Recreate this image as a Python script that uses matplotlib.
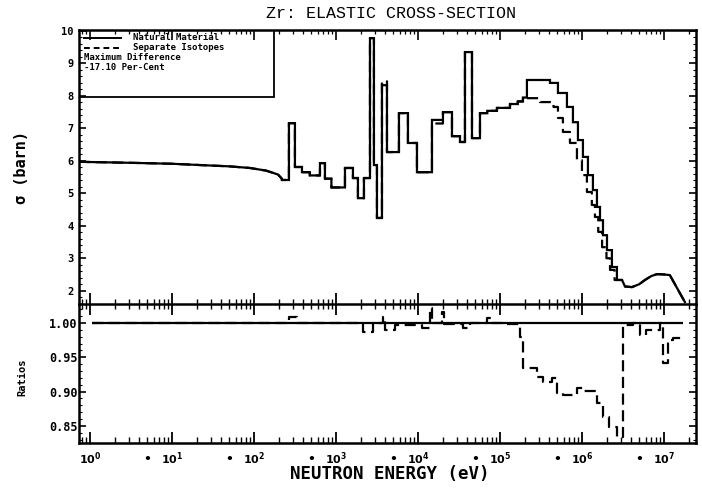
import numpy as np
import matplotlib
matplotlib.use("Agg")
import matplotlib.pyplot as plt
from matplotlib.ticker import FixedLocator, MultipleLocator, FixedFormatter
from matplotlib.patches import Rectangle
from matplotlib.lines import Line2D

# ---------------- data (energies in eV, cross sections in barn) ----------------
# smooth low-energy part (both evaluations agree)
low_E = [0.735, 3, 10, 22, 50, 89, 140, 196, 219]
low_sig = [5.97, 5.94, 5.91, 5.87, 5.83, 5.78, 5.70, 5.58, 5.45]

# resonance region, step (group) values: edges have one more entry than values
res_edges = [219, 267, 316, 385, 480, 638, 734, 880, 1288, 1611, 1854, 2195, 2600,
             2905, 3162, 3640, 4190, 5865, 7550, 9726, 14820, 20180, 26000, 32540,
             37440, 45600, 57060, 70000, 91900, 132500, 165000, 190700, 213300]
res_nat = [5.41, 7.16, 5.81, 5.65, 5.55, 5.93, 5.45, 5.18, 5.78, 5.47, 4.85, 5.47,
           9.78, 5.87, 4.24, 8.33, 6.27, 7.47, 6.55, 5.65, 7.26, 7.50, 6.76, 6.58,
           9.35, 6.70, 7.47, 7.54, 7.63, 7.75, 7.83, 7.95]
res_sep = [5.41, 7.16, 5.81, 5.65, 5.55, 5.93, 5.45, 5.18, 5.78, 5.47, 4.85, 5.47,
           9.78, 5.87, 4.24, 8.45, 6.27, 7.47, 6.55, 5.65, 7.15, 7.50, 6.76, 6.58,
           9.35, 6.70, 7.47, 7.54, 7.63, 7.75, 7.83, 7.95]

# fast region, natural material
fast_nat_edges = [213300, 407400, 509700, 656300, 776500, 893700, 1.028e6, 1.183e6,
                  1.361e6, 1.524e6, 1.66e6, 1.805e6, 2.02e6, 2.32e6, 2.67e6, 3.08e6]
fast_nat = [8.49, 8.40, 8.09, 7.66, 7.19, 6.64, 6.12, 5.56, 5.10, 4.58, 4.17, 3.71,
            3.25, 2.73, 2.33]
# fast region, separate isotopes
fast_sep_edges = [213300, 307300, 450000, 509700, 586000, 714000, 869000, 1.0e6,
                  1.15e6, 1.32e6, 1.44e6, 1.58e6, 1.76e6, 1.99e6, 2.2e6, 2.5e6, 3.08e6]
fast_sep = [7.93, 7.81, 7.66, 7.32, 6.89, 6.55, 6.02, 5.56, 5.04, 4.64, 4.27, 3.81,
            3.34, 3.00, 2.64, 2.33]

# smooth high-energy tail (both agree)
high_E = [3.35e6, 4.07e6, 5.0e6, 5.87e6, 7.0e6, 8.22e6, 1.0e7, 1.18e7, 1.8e7]
high_sig = [2.13, 2.11, 2.20, 2.33, 2.45, 2.51, 2.50, 2.48, 1.65]

# ratio (separate isotopes / natural)
ratio_edges = [1.05, 267, 334, 2135, 2830, 3743, 4000, 5200, 11200, 13900, 15000,
               19600, 21000, 35400, 43000, 69400, 81000, 121600, 175400, 190700,
               282700, 334000, 430700, 495700, 586000, 869000, 1.03e6, 1.52e6,
               1.81e6, 2.16e6, 2.67e6, 3.16e6, 4.19e6, 5.1e6, 6.0e6, 8.93e6, 9.7e6,
               1.13e7, 1.3e7, 1.71e7]
ratio_vals = [1.0, 1.009, 1.0, 0.987, 1.0, 1.009, 0.99, 0.997, 0.993, 1.022, 1.0,
              1.016, 0.998, 0.993, 1.0, 1.007, 1.0, 0.998, 0.98, 0.934, 0.921, 0.914,
              0.92, 0.898, 0.895, 0.905, 0.901, 0.884, 0.863, 0.848, 0.834, 0.997,
              1.0, 0.983, 0.99, 1.0, 0.942, 0.975, 0.978]

legend_lines = ["Natural Material", "Separate Isotopes"]
legend_notes = ["Maximum Difference", "-17.10 Per-Cent"]
title = "Zr: ELASTIC CROSS-SECTION"
xlabel = "NEUTRON ENERGY (eV)"
ylabel_top = "\u03c3 (barn)"
ylabel_bot = "Ratios"
top_yticks = [2, 3, 4, 5, 6, 7, 8, 9, 10]
bot_yticks = [0.85, 0.90, 0.95, 1.00]
decades = [0, 1, 2, 3, 4, 5, 6, 7]


def steps_xy(edges, vals):
    e = np.asarray(edges, float)
    v = np.asarray(vals, float)
    x = np.repeat(e, 2)[1:-1]
    y = np.repeat(v, 2)
    return x, y


def build(res_v, fe, fv):
    x1, y1 = steps_xy(res_edges, res_v)
    x2, y2 = steps_xy(fe, fv)
    x = np.concatenate([low_E, x1, x2, high_E])
    y = np.concatenate([low_sig, y1, y2, high_sig])
    return x, y


nat_x, nat_y = build(res_nat, fast_nat_edges, fast_nat)
sep_x, sep_y = build(res_sep, fast_sep_edges, fast_sep)
rat_x, rat_y = steps_xy(ratio_edges, ratio_vals)

# ---------------- figure ----------------
W, H = 702, 491
fig = plt.figure(figsize=(W / 100, H / 100), dpi=100)
L, R = 79, 696
T1, B1, B2 = 30, 304, 443
ax2 = fig.add_axes([L / W, 1 - B2 / H, (R - L) / W, (B2 - B1) / H])
ax1 = fig.add_axes([L / W, 1 - B1 / H, (R - L) / W, (B1 - T1) / H])
ax1.patch.set_alpha(0)
ax2.patch.set_alpha(0)

xlim = (0.735, 2.46e7)
lw = 1.6
ax1.plot(nat_x, nat_y, color="black", lw=lw, solid_joinstyle="miter")
ax1.plot(sep_x, sep_y, color="black", lw=lw, dashes=(5, 2.5))
ax1.set_xscale("log")
ax1.set_xlim(*xlim)
ax1.set_ylim(1.59, 10.03)

ax2.hlines(1.0, ratio_edges[0], ratio_edges[-1], color="black", lw=lw)
ax2.plot(rat_x, rat_y, color="black", lw=lw, dashes=(5, 2.5))
ax2.set_xscale("log")
ax2.set_xlim(*xlim)
ax2.set_ylim(0.825, 1.0277)

major = [10.0 ** d for d in decades]
minor = [m * 10.0 ** d for d in range(-1, 8) for m in range(2, 10)]
minor = [v for v in minor if xlim[0] < v < xlim[1]]

for ax in (ax1, ax2):
    for s in ax.spines.values():
        s.set_linewidth(1.8)
    ax.xaxis.set_major_locator(FixedLocator(major))
    ax.xaxis.set_minor_locator(FixedLocator(minor))

# top panel ticks (its bottom spine is the divider line, ticks both ways)
ax1.tick_params(axis="x", which="major", direction="inout", length=16, width=1.3,
                bottom=True, top=False, labelbottom=False)
ax1.tick_params(axis="x", which="minor", direction="inout", length=7, width=1.0,
                bottom=True, top=False, labelbottom=False)
ax1.yaxis.set_major_locator(FixedLocator(top_yticks))
ax1.yaxis.set_minor_locator(MultipleLocator(0.2))
ax1.yaxis.set_major_formatter(FixedFormatter([str(v) for v in top_yticks]))
ax1.tick_params(axis="y", which="major", direction="in", length=5, width=1.2,
                left=True, right=True, labelsize=7.5, pad=4)
ax1.tick_params(axis="y", which="minor", direction="in", length=2, width=0.8,
                left=True, right=True)
for lab in ax1.get_yticklabels():
    lab.set_fontweight("bold")
    lab.set_family("DejaVu Sans Mono")

axt = ax1.twiny()
axt.set_xscale("log")
axt.set_xlim(*xlim)
axt.xaxis.set_major_locator(FixedLocator(major))
axt.xaxis.set_minor_locator(FixedLocator(minor))
axt.tick_params(axis="x", which="major", direction="in", length=7, width=1.2,
                labeltop=False)
axt.tick_params(axis="x", which="minor", direction="in", length=3, width=0.9)
for s in axt.spines.values():
    s.set_visible(False)

# bottom panel ticks
ax2.spines["top"].set_visible(False)
ax2.tick_params(axis="x", which="major", direction="in", length=8, width=1.3,
                top=False, labelsize=8, pad=5)
ax2.tick_params(axis="x", which="minor", direction="in", length=4, width=1.0,
                top=False)
ax2.xaxis.set_major_formatter(FixedFormatter(
    [r"$\mathbf{10^{%d}}$" % d for d in decades]))
ax2.yaxis.set_major_locator(FixedLocator(bot_yticks))
ax2.yaxis.set_minor_locator(MultipleLocator(0.01))
ax2.yaxis.set_major_formatter(FixedFormatter(["%.2f" % v for v in bot_yticks]))
ax2.tick_params(axis="y", which="major", direction="in", length=5, width=1.2,
                left=True, right=True, labelsize=8.5, pad=1)
ax2.tick_params(axis="y", which="minor", direction="in", length=2, width=0.8,
                left=True, right=True)
for lab in ax2.get_yticklabels():
    lab.set_fontweight("bold")
    lab.set_family("DejaVu Sans Mono")

# "•" marks at 5 x 10^n between decade labels
for d in range(0, 7):
    ax2.annotate("\u2022", xy=(5 * 10.0 ** d, 0), xycoords=("data", "axes fraction"),
                 xytext=(0, -12), textcoords="offset points", ha="center", va="center",
                 fontsize=9, fontweight="bold")

# texts
fig.text(391 / W, 1 - 13 / H, title, ha="center", va="center",
         family="Liberation Mono", fontsize=12)
fig.text(390 / W, 1 - 474 / H, xlabel, ha="center", va="center",
         family="DejaVu Sans Mono", fontweight="bold", fontsize=12.5)
fig.text(22 / W, 1 - 168 / H, ylabel_top, ha="center", va="center", rotation=90,
         family="DejaVu Sans Mono", fontweight="bold", fontsize=11)
fig.text(22 / W, 1 - 377 / H, ylabel_bot, ha="center", va="center", rotation=90,
         family="DejaVu Sans Mono", fontweight="bold", fontsize=7.5)

# legend box (drawn manually in axes coordinates)
def ax_xy(px, py):
    return (px - L) / (R - L), (B1 - py) / (B1 - T1)

bx0, by0 = ax_xy(L, 97)
bx1, by1 = ax_xy(274, T1)
ax1.add_patch(Rectangle((bx0, by0), bx1 - bx0, by1 - by0, transform=ax1.transAxes,
                        fill=False, lw=1.3, ec="black", zorder=5))
rows_py = [37.5, 47.5, 58, 68]
for i, (txt, style) in enumerate(zip(legend_lines, ["-", "--"])):
    xa, ya = ax_xy(84, rows_py[i])
    xb, _ = ax_xy(121, rows_py[i])
    ln = Line2D([xa, xb], [ya, ya], transform=ax1.transAxes, color="black", lw=1.4)
    if style == "--":
        ln.set_dashes((3, 2))
    ax1.add_line(ln)
    xt, _ = ax_xy(133, rows_py[i])
    ax1.text(xt, ya, txt, transform=ax1.transAxes, ha="left", va="center",
             family="DejaVu Sans Mono", fontweight="bold", fontsize=6.5)
for j, txt in enumerate(legend_notes):
    xt, yt = ax_xy(84, rows_py[2 + j])
    ax1.text(xt, yt, txt, transform=ax1.transAxes, ha="left", va="center",
             family="DejaVu Sans Mono", fontweight="bold", fontsize=6.5)

fig.savefig("out.png", dpi=100)
